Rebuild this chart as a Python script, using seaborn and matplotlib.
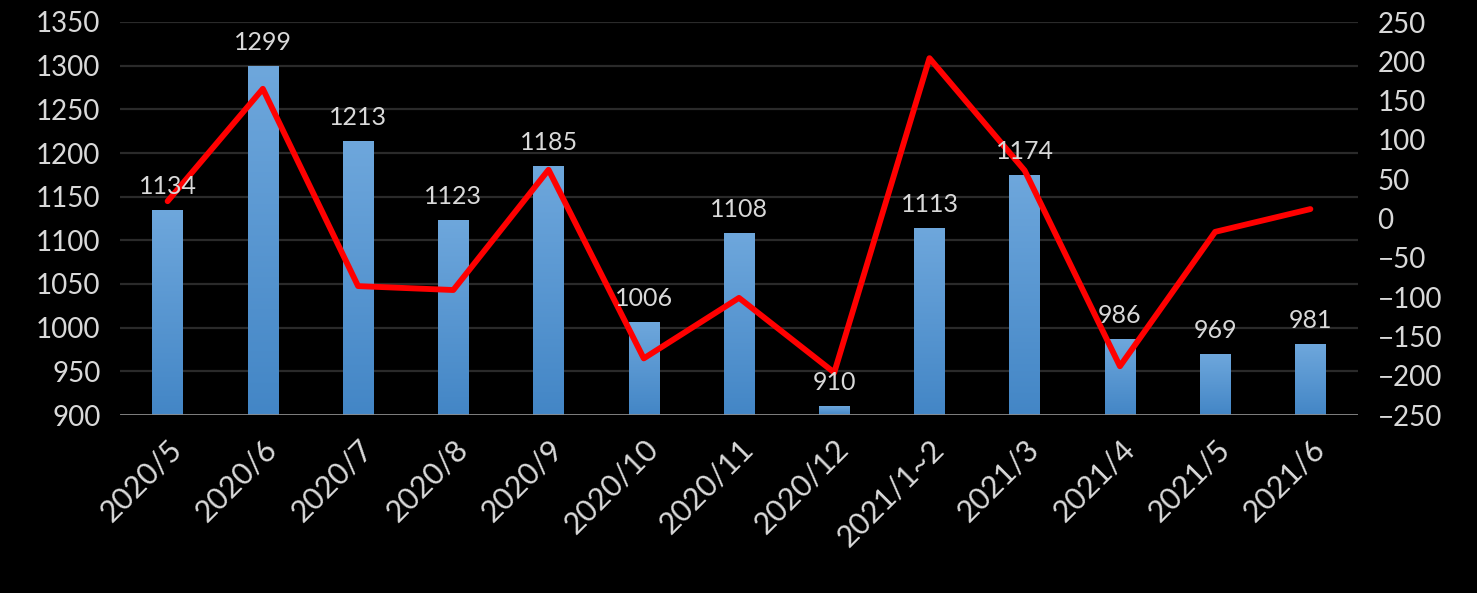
import numpy as np
import pandas as pd
import matplotlib
matplotlib.use("Agg")
import matplotlib.pyplot as plt
import seaborn as sns
from matplotlib.colors import LinearSegmentedColormap

categories = ["2020/5", "2020/6", "2020/7", "2020/8", "2020/9", "2020/10", "2020/11",
              "2020/12", "2021/1~2", "2021/3", "2021/4", "2021/5", "2021/6"]
bar_values = [1134, 1299, 1213, 1123, 1185, 1006, 1108, 910, 1113, 1174, 986, 969, 981]
line_values = [22, 165, -86, -91, 62, -178, -101, -196, 204, 61, -188, -17, 12]
left_ticks = [900, 950, 1000, 1050, 1100, 1150, 1200, 1250, 1300, 1350]
right_ticks = [-250, -200, -150, -100, -50, 0, 50, 100, 150, 200, 250]

sns.set_theme(style="dark")
plt.rcParams['font.family'] = ['Lato', 'DejaVu Sans']
txt = "#d9d9d9"

df = pd.DataFrame({"cat": categories, "val": bar_values, "chg": line_values})

fig = plt.figure(figsize=(14.77, 5.93), dpi=100, facecolor="black")
ax = fig.add_axes([120/1477, 1-415/593, (1358-120)/1477, (415-22)/593])
ax.set_facecolor("black")

ymin, ymax = 900, 1350
sns.barplot(data=df, x="cat", y="val", ax=ax, width=0.32, color="#5b9bd5",
            linewidth=0, zorder=3)
ax.set_ylim(ymin, ymax)
ax.set_xlim(-0.5, len(categories) - 0.5)
ax.set_yticks(left_ticks)
for y in left_ticks[1:]:
    ax.axhline(y, color="#2a2a2a", lw=1.6, zorder=1)
ax.axhline(ymin, color="#8c8c8c", lw=2, zorder=4)
for s in ax.spines.values():
    s.set_visible(False)
ax.grid(False)
ax.set_xlabel("")
ax.set_ylabel("")
ax.tick_params(axis="y", colors=txt, labelsize=20, length=0, pad=14)
ax.tick_params(axis="x", colors=txt, labelsize=22, length=0, pad=14)
for lab in ax.get_xticklabels():
    lab.set_rotation(45)
    lab.set_ha("right")
    lab.set_va("top")
    lab.set_rotation_mode("anchor")

# gradient fill for bars (visible part only)
cmap = LinearSegmentedColormap.from_list("g", ["#4386c6", "#6ea7dc"])
grad = np.linspace(0, 1, 256).reshape(-1, 1)
for p in ax.patches:
    x0 = p.get_x()
    w = p.get_width()
    top = p.get_y() + p.get_height()
    ax.imshow(grad, cmap=cmap, aspect="auto", origin="lower",
              extent=[x0, x0 + w, ymin, top], zorder=3)
    p.set_visible(False)
ax.set_xlim(-0.5, len(categories) - 0.5)
ax.set_ylim(ymin, ymax)

ax2 = ax.twinx()
sns.lineplot(x=np.arange(len(categories)), y=line_values, ax=ax2, color="#ff0000",
             lw=4.2, zorder=5)
ax2.set_ylim(-250, 250)
ax2.set_yticks(right_ticks)
ax2.set_xlim(-0.5, len(categories) - 0.5)
for s in ax2.spines.values():
    s.set_visible(False)
ax2.grid(False)
ax2.tick_params(axis="y", colors=txt, labelsize=20, length=0, pad=14)
for lab in ax2.get_yticklabels():
    lab.set_ha("left")

for i, v in enumerate(bar_values):
    ax2.annotate(str(v), xy=(i, v), xycoords=ax.transData, xytext=(0, 9),
                 textcoords="offset points", ha="center", va="bottom",
                 color=txt, fontsize=18, zorder=10)

fig.savefig("out.png", dpi=100, facecolor="black")
